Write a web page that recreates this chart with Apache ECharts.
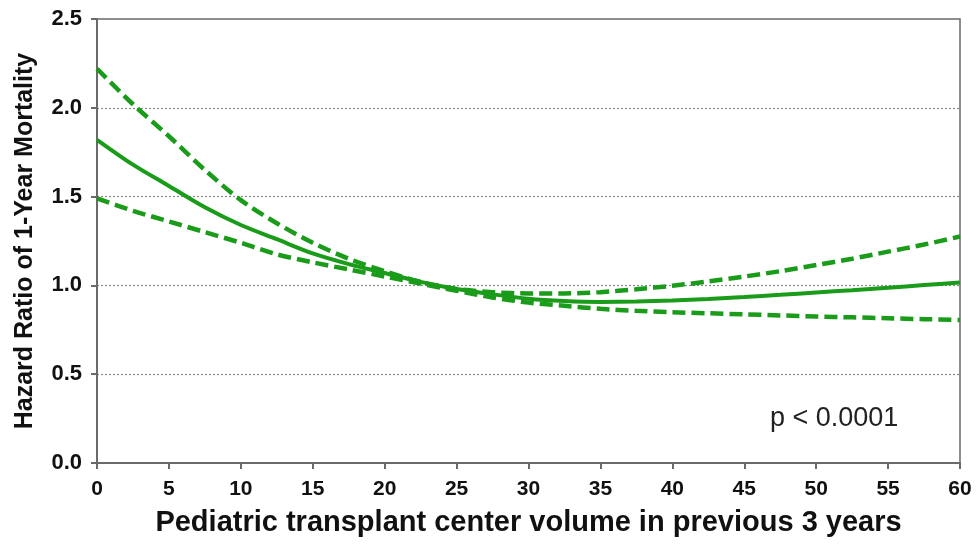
<!DOCTYPE html>
<html>
<head>
<meta charset="utf-8">
<script src="https://cdn.jsdelivr.net/npm/echarts@6/dist/echarts.min.js"></script>
<style>
  html, body { margin: 0; padding: 0; background: #fff; }
  #chart { width: 979px; height: 544px; }
</style>
</head>
<body>
<div id="chart"></div>
<script>
// Center volume (x) and hazard ratio estimate with 95% confidence bounds
const volume = [0, 2.5, 5, 7.5, 10, 12.5, 15, 17.5, 20, 22.5, 25, 27.5, 30,
                32.5, 35, 37.5, 40, 42.5, 45, 47.5, 50, 52.5, 55, 57.5, 60];
const hazardRatio = [1.82, 1.68, 1.56, 1.44, 1.34, 1.26, 1.18, 1.12, 1.07, 1.02, 0.98, 0.95, 0.925,
                     0.912, 0.907, 0.909, 0.915, 0.924, 0.935, 0.947, 0.96, 0.973, 0.987, 1.002, 1.017];
const upperBound = [2.22, 2.02, 1.84, 1.65, 1.48, 1.35, 1.24, 1.15, 1.08, 1.02, 0.98, 0.962, 0.955,
                    0.955, 0.962, 0.978, 0.998, 1.022, 1.05, 1.08, 1.115, 1.15, 1.19, 1.23, 1.275];
const lowerBound = [1.49, 1.42, 1.36, 1.30, 1.24, 1.175, 1.13, 1.09, 1.05, 1.01, 0.97, 0.932, 0.903,
                    0.885, 0.868, 0.857, 0.849, 0.843, 0.837, 0.831, 0.825, 0.82, 0.815, 0.81, 0.805];
const yTicks = [0, 0.5, 1.0, 1.5, 2.0, 2.5];
const xTicks = [0, 5, 10, 15, 20, 25, 30, 35, 40, 45, 50, 55, 60];
const pValueText = 'p < 0.0001';

const green = '#1a9c1a';
const axisGray = '#6a6a6a';
const font = '"Liberation Sans", Arial, sans-serif';

const pairs = ys => volume.map((x, i) => [x, ys[i]]);

const chart = echarts.init(document.getElementById('chart'), null, { renderer: 'canvas' });
chart.setOption({
  animation: false,
  backgroundColor: '#fff',
  grid: {
    left: 97, right: 19, top: 19, bottom: 81,
    show: true, borderColor: axisGray, borderWidth: 1.5, backgroundColor: 'transparent'
  },
  xAxis: {
    type: 'value',
    min: xTicks[0], max: xTicks[xTicks.length - 1], interval: 5,
    name: 'Pediatric transplant center volume in previous 3 years',
    nameLocation: 'middle', nameGap: 45,
    nameTextStyle: { fontFamily: font, fontWeight: 'bold', fontSize: 29, color: '#111' },
    axisLine: { show: true, lineStyle: { color: axisGray, width: 2 } },
    axisTick: { show: true, length: 6, inside: false, lineStyle: { color: axisGray, width: 2 } },
    axisLabel: { fontFamily: font, fontWeight: 'bold', fontSize: 21, color: '#111', margin: 16 },
    splitLine: { show: false }
  },
  yAxis: {
    type: 'value',
    min: yTicks[0], max: yTicks[yTicks.length - 1], interval: 0.5,
    name: 'Hazard Ratio of 1-Year Mortality',
    nameLocation: 'middle', nameGap: 59,
    nameTextStyle: { fontFamily: font, fontWeight: 'bold', fontSize: 25, color: '#111' },
    axisLine: { show: true, lineStyle: { color: axisGray, width: 2 } },
    axisTick: { show: true, length: 6, inside: false, lineStyle: { color: axisGray, width: 2 } },
    axisLabel: {
      fontFamily: font, fontWeight: 'bold', fontSize: 22, color: '#111', margin: 15,
      formatter: v => v.toFixed(1)
    },
    splitLine: {
      show: true, showMinLine: false, showMaxLine: false,
      lineStyle: { color: '#8a8a8a', type: [2, 2], width: 1.2 }
    }
  },
  series: [
    {
      name: 'Upper 95% CI', type: 'line', data: pairs(upperBound), smooth: 0.3,
      showSymbol: false, lineStyle: { color: green, width: 4.5, type: [13, 6] }, z: 3
    },
    {
      name: 'Lower 95% CI', type: 'line', data: pairs(lowerBound), smooth: 0.3,
      showSymbol: false, lineStyle: { color: green, width: 4.5, type: [13, 6] }, z: 3
    },
    {
      name: 'Hazard ratio', type: 'line', data: pairs(hazardRatio), smooth: 0.3,
      showSymbol: false, lineStyle: { color: green, width: 4 }, z: 4
    }
  ],
  graphic: [{
    type: 'text', left: 770, top: 405,
    style: { text: pValueText, fontFamily: font, fontSize: 27, fill: '#222' }
  }]
});
</script>
</body>
</html>
